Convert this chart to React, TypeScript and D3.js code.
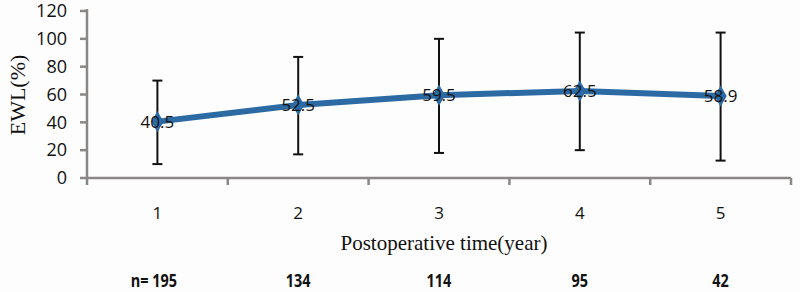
import React from "react";
import * as d3 from "d3";

const categories = ["1", "2", "3", "4", "5"];
const means = [40.5, 52.5, 59.5, 62.5, 58.9];
const upper = [70, 87, 100, 104.5, 104.5];
const lower = [10, 17, 18, 20, 12.5];
const nLabels = ["n= 195", "134", "114", "95", "42"];
const yTicks = [0, 20, 40, 60, 80, 100, 120];

const W = 800;
const H = 292;
const left = 87;
const right = 791;
const top = 11;
const bottom = 178;

export default function App() {
  const x = d3.scaleBand<string>().domain(categories).range([left, right]);
  const y = d3.scaleLinear().domain([0, 120]).range([bottom, top]);
  const cx = (c: string) => (x(c) as number) + x.bandwidth() / 2;
  const line = d3
    .line<number>()
    .x((_, i) => cx(categories[i]))
    .y((d) => y(d));
  const diamond = d3.symbol(d3.symbolDiamond, 130)() as string;
  const axisColor = "#8a8785";
  const boundaries = categories.map((c) => x(c) as number).concat([right]);

  return (
    <svg
      width={W}
      height={H}
      style={{ position: "absolute", left: 0, top: 0, background: "#fdfdfd" }}
    >
      <rect x={0} y={0} width={W} height={H} fill="#fdfdfd" />
      {/* y axis */}
      <line x1={left} x2={left} y1={top - 2} y2={bottom} stroke={axisColor} strokeWidth={2.5} />
      {yTicks.map((t) => (
        <g key={t}>
          <line x1={left - 7} x2={left} y1={y(t)} y2={y(t)} stroke={axisColor} strokeWidth={2.5} />
          <text
            x={67}
            y={y(t)}
            dy="0.35em"
            textAnchor="end"
            fontFamily="Open Sans"
            fontSize={18}
            fill="#111"
          >
            {t}
          </text>
        </g>
      ))}
      {/* x axis */}
      <line x1={left - 1} x2={right} y1={bottom} y2={bottom} stroke={axisColor} strokeWidth={2.5} />
      {boundaries.map((b, i) => (
        <line key={i} x1={b} x2={b} y1={bottom} y2={bottom + 7} stroke={axisColor} strokeWidth={2.5} />
      ))}
      {categories.map((c) => (
        <text
          key={c}
          x={cx(c)}
          y={213}
          dy="0.35em"
          textAnchor="middle"
          fontFamily="Open Sans"
          fontSize={17}
          fill="#111"
        >
          {c}
        </text>
      ))}
      {/* axis titles */}
      <text
        x={444}
        y={243}
        dy="0.35em"
        textAnchor="middle"
        fontFamily="Liberation Serif"
        fontSize={21}
        fill="#111"
      >
        Postoperative time(year)
      </text>
      <text
        transform={`translate(17,${95}) rotate(-90)`}
        textAnchor="middle"
        dy="0.35em"
        fontFamily="Liberation Serif"
        fontSize={22}
        fill="#111"
      >
        EWL(%)
      </text>
      {/* error bars */}
      {categories.map((c, i) => (
        <g key={c} stroke="#111" strokeWidth={2}>
          <line x1={cx(c)} x2={cx(c)} y1={y(upper[i])} y2={y(lower[i])} />
          <line x1={cx(c) - 5} x2={cx(c) + 5} y1={y(upper[i])} y2={y(upper[i])} />
          <line x1={cx(c) - 5} x2={cx(c) + 5} y1={y(lower[i])} y2={y(lower[i])} />
        </g>
      ))}
      {/* line */}
      <path d={line(means) as string} fill="none" stroke="#2b6aa3" strokeWidth={6} strokeLinejoin="round" />
      {means.map((m, i) => (
        <path
          key={i}
          d={diamond}
          transform={`translate(${cx(categories[i])},${y(m)})`}
          fill="#2b6aa3"
        />
      ))}
      {means.map((m, i) => (
        <text
          key={i}
          x={cx(categories[i])}
          y={y(m)}
          dy="0.35em"
          textAnchor="middle"
          fontFamily="Open Sans"
          fontSize={17}
          fill="#111"
        >
          {m.toFixed(1)}
        </text>
      ))}
      {/* n labels */}
      {categories.map((c, i) => (
        <text
          key={c}
          x={cx(c) + (i === 0 ? -4 : 0)}
          y={281}
          dy="0.35em"
          textAnchor="middle"
          fontFamily="Open Sans"
          fontWeight="bold"
          fontSize={17}
          fill="#111"
          transform={`translate(${cx(c)},281) scale(0.85,1) translate(${-cx(c)},-281)`}
        >
          {nLabels[i]}
        </text>
      ))}
    </svg>
  );
}
